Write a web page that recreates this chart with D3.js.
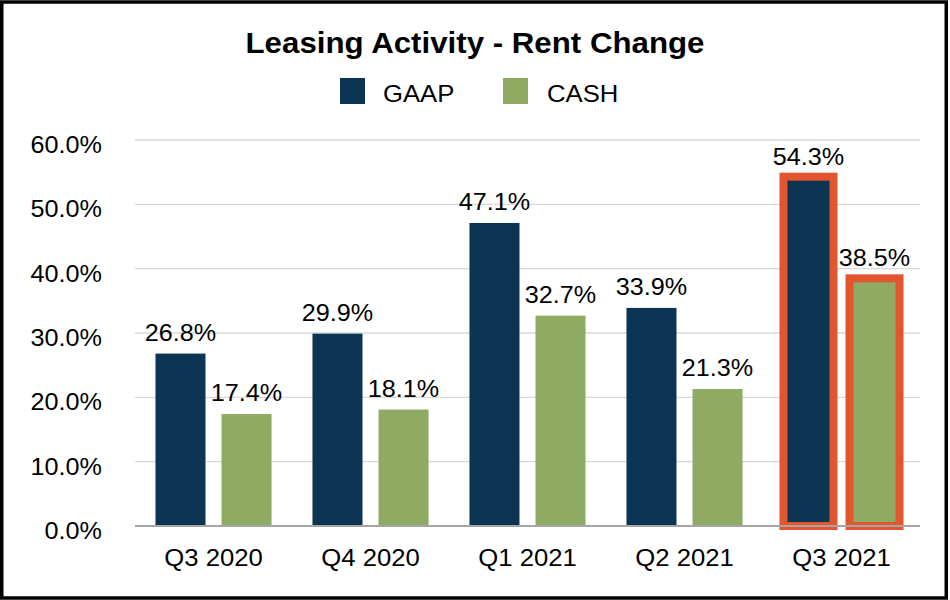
<!DOCTYPE html>
<html>
<head>
<meta charset="utf-8">
<script src="https://cdn.jsdelivr.net/npm/d3@7"></script>
<style>
  html, body { margin: 0; padding: 0; background: #fff; }
  svg { display: block; font-family: "Liberation Sans", Arial, sans-serif; }
</style>
</head>
<body>
<svg id="chart" width="950" height="600"></svg>
<script>
const title = "Leasing Activity - Rent Change";
const categories = ["Q3 2020", "Q4 2020", "Q1 2021", "Q2 2021", "Q3 2021"];
const seriesNames = ["GAAP", "CASH"];
const gaapValues = [26.8, 29.9, 47.1, 33.9, 54.3];
const cashValues = [17.4, 18.1, 32.7, 21.3, 38.5];
const yTicks = [0, 10, 20, 30, 40, 50, 60];
const highlightCategory = "Q3 2021";

const colors = { GAAP: "#0B3552", CASH: "#8FAA63" };
const highlightColor = "#E1552F";

const svg = d3.select("#chart");
const W = 950, H = 600;
const plot = { left: 135, right: 920, top: 140, bottom: 526 };

svg.append("rect").attr("x", 0).attr("y", 0).attr("width", W).attr("height", H).attr("fill", "#fff");

const x0 = d3.scaleBand().domain(categories).range([plot.left, plot.right]).padding(0);
const x1 = d3.scaleBand().domain(seriesNames).range([0, x0.bandwidth()])
  .paddingInner(16 / 66).paddingOuter(0.31).align(0.5);
const y = d3.scaleLinear().domain([0, 60]).range([plot.bottom, plot.top]);

const fmt = v => v.toFixed(1) + "%";

// gridlines
svg.append("g").selectAll("line").data(yTicks.filter(t => t > 0)).join("line")
  .attr("x1", plot.left).attr("x2", plot.right)
  .attr("y1", d => y(d)).attr("y2", d => y(d))
  .attr("stroke", "#D9D9D9").attr("stroke-width", 1.3);

// y axis labels
const yAxis = d3.axisLeft(y).tickValues(yTicks).tickFormat(fmt).tickSize(0).tickPadding(0);
const yg = svg.append("g").attr("transform", "translate(102,0)").call(yAxis);
yg.select(".domain").remove();
yg.selectAll("text")
  .attr("font-size", 24).attr("fill", "#000").attr("dy", null)
  .attr("font-family", "Liberation Sans, Arial, sans-serif")
  .attr("text-anchor", "end")
  .attr("transform", "translate(0,13) scale(1.05,1)")
  .attr("x", 0).attr("y", 0);
yg.selectAll(".tick").attr("transform", d => `translate(0,${y(d)})`);

// bars
const rows = categories.map((c, i) => ({ cat: c, values: [
  { key: "GAAP", value: gaapValues[i] },
  { key: "CASH", value: cashValues[i] }
]}));

const groups = svg.append("g").selectAll("g").data(rows).join("g")
  .attr("transform", d => `translate(${x0(d.cat)},0)`);

groups.selectAll("rect").data(d => d.values.map(v => ({ ...v, cat: d.cat }))).join("rect")
  .attr("x", d => x1(d.key))
  .attr("width", x1.bandwidth())
  .attr("y", d => y(d.value))
  .attr("height", d => y(0) - y(d.value))
  .attr("fill", d => colors[d.key])
  .attr("stroke", d => d.cat === highlightCategory ? highlightColor : "none")
  .attr("stroke-width", d => d.cat === highlightCategory ? 8 : 0);

groups.selectAll("text").data(d => d.values.map(v => ({ ...v, cat: d.cat }))).join("text")
  .attr("transform", d => `translate(${x1(d.key) + x1.bandwidth() / 2},${y(d.value) - (d.cat === highlightCategory ? 12 : 13)}) scale(1.05,1)`)
  .attr("text-anchor", "middle")
  .attr("font-size", 24).attr("fill", "#000")
  .text(d => fmt(d.value));

// x axis
svg.append("line")
  .attr("x1", plot.left).attr("x2", plot.right)
  .attr("y1", y(0)).attr("y2", y(0))
  .attr("stroke", "#A6A6A6").attr("stroke-width", 2);

const xAxis = d3.axisBottom(x0).tickSize(0).tickPadding(0);
const xg = svg.append("g").attr("transform", "translate(0,566)").call(xAxis);
xg.select(".domain").remove();
xg.selectAll("text")
  .attr("font-size", 24).attr("fill", "#000").attr("dy", null).attr("y", 0)
  .attr("font-family", "Liberation Sans, Arial, sans-serif")
  .attr("transform", "scale(1.07,1)");

// title
svg.append("text")
  .attr("transform", `translate(${W / 2},53) scale(1.06,1)`)
  .attr("text-anchor", "middle")
  .attr("font-size", 29.5).attr("font-weight", "bold").attr("fill", "#000")
  .text(title);

// legend
const legendItems = [
  { key: "GAAP", sx: 340, tx: 383 },
  { key: "CASH", sx: 503, tx: 547 }
];
const lg = svg.append("g");
lg.selectAll("rect").data(legendItems).join("rect")
  .attr("x", d => d.sx).attr("y", 78).attr("width", 25).attr("height", 26)
  .attr("fill", d => colors[d.key]);
lg.selectAll("text").data(legendItems).join("text")
  .attr("transform", d => `translate(${d.tx},102) scale(1.07,1)`)
  .attr("font-size", 24).attr("fill", "#000")
  .text(d => d.key);

// outer border
svg.append("rect")
  .attr("x", 1.75).attr("y", 2).attr("width", 944.5).attr("height", 596)
  .attr("fill", "none").attr("stroke", "#000").attr("stroke-width", 3.5);
</script>
</body>
</html>
